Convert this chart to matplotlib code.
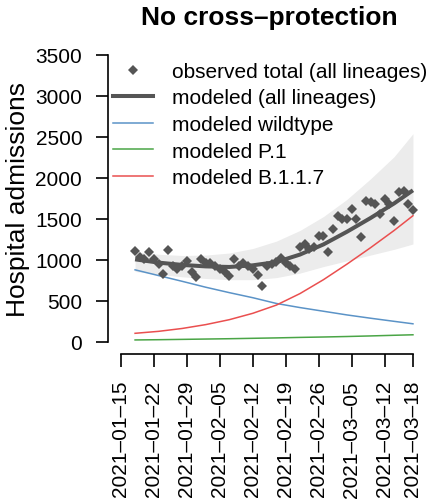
import matplotlib
matplotlib.use("Agg")
import matplotlib.pyplot as plt
import matplotlib.dates as mdates
from matplotlib.lines import Line2D
import numpy as np
import pandas as pd

plt.rcParams['font.family'] = ['Liberation Sans', 'DejaVu Sans']

# observed daily admissions, one per day 2021-01-18 .. 2021-03-18
obs_start = '2021-01-18'
obs_total = [1114, 1033, 1012, 1093, 1010, 951, 829, 1126, 931, 890,
             931, 992, 850, 789, 1012, 963, 963, 931, 890, 850,
             801, 1012, 931, 963, 931, 890, 821, 687, 931, 951,
             972, 1024, 963, 931, 890, 1154, 1195, 1134, 1154, 1289,
             1289, 1093, 1378, 1541, 1500, 1500, 1622, 1500, 1276, 1724,
             1703, 1683, 1561, 1744, 1683, 1480, 1825, 1846, 1683, 1614]

model_dates = ['2021-01-18', '2021-01-23', '2021-01-28', '2021-02-02', '2021-02-07',
               '2021-02-12', '2021-02-17', '2021-02-22', '2021-02-27', '2021-03-04',
               '2021-03-09', '2021-03-14', '2021-03-18']
model_total = [1008, 968, 940, 922, 915, 935, 975, 1066, 1190, 1345, 1512, 1690, 1850]
ci_low = [860, 825, 795, 775, 760, 760, 785, 840, 920, 990, 1060, 1130, 1195]
ci_high = [1100, 1070, 1055, 1060, 1085, 1140, 1230, 1360, 1530, 1740, 1990, 2260, 2540]
wildtype = [880, 810, 740, 668, 602, 540, 470, 420, 375, 330, 290, 252, 222]
p1 = [25, 28, 32, 36, 40, 45, 50, 56, 61, 67, 74, 82, 88]
b117 = [106, 130, 165, 212, 272, 350, 450, 590, 760, 950, 1150, 1360, 1540]

tick_dates = ['2021-01-15', '2021-01-22', '2021-01-29', '2021-02-05', '2021-02-12',
              '2021-02-19', '2021-02-26', '2021-03-05', '2021-03-12', '2021-03-18']
y_ticks = [0, 500, 1000, 1500, 2000, 2500, 3000, 3500]

grey = '#555555'

obs_x = mdates.date2num(pd.date_range(obs_start, periods=len(obs_total), freq='D'))
mod_x = mdates.date2num(pd.to_datetime(model_dates))
tick_x = mdates.date2num(pd.to_datetime(tick_dates))

fig = plt.figure(figsize=(4.33, 5.02), dpi=100)
ax = fig.add_axes([0.263, 0.3004, 0.707, 0.6044])

ax.fill_between(mod_x, ci_low, ci_high, color='#ececec', lw=0, zorder=1)
ax.plot(obs_x, obs_total, ls='none', marker='D', ms=5.2, color=grey, mew=0, zorder=3)
ax.plot(mod_x, model_total, color=grey, lw=2.9, solid_capstyle='butt', zorder=4)
ax.plot(mod_x, wildtype, color='#5b93c7', lw=1.1, zorder=2)
ax.plot(mod_x, p1, color='#4aa546', lw=1.1, zorder=2)
ax.plot(mod_x, b117, color='#ea4f4f', lw=1.1, zorder=2)

ax.set_xlim(tick_x[0] - 1.5, tick_x[0] + 63.5)
ax.set_ylim(-100, 3600)

for s in ['top', 'right']:
    ax.spines[s].set_visible(False)
ax.spines['left'].set_position(('outward', 4.3))
ax.spines['bottom'].set_position(('outward', 2.9))
ax.spines['left'].set_bounds(0, 3500)
ax.spines['bottom'].set_bounds(tick_x[0], tick_x[-1])
ax.spines['left'].set_linewidth(1.2)
ax.spines['bottom'].set_linewidth(1.2)

ax.set_yticks(y_ticks)
ax.set_yticklabels([str(v) for v in y_ticks])
ax.set_xticks(tick_x)
ax.set_xticklabels([d.replace('-', '\u2013') for d in tick_dates], rotation=90)
ax.tick_params(direction='out', length=9, width=1.2, labelsize=15, pad=9.5)

ax.set_ylabel('Hospital admissions', fontsize=19)
ax.yaxis.set_label_coords(-0.274, 0.5)

fig.text(269 / 433, 1 - 25 / 502, 'No cross\u2013protection', fontsize=19,
         fontweight='bold', ha='center', va='baseline')

handles = [Line2D([], [], ls='none', marker='D', ms=5.2, color=grey, mew=0),
           Line2D([], [], color=grey, lw=2.9),
           Line2D([], [], color='#5b93c7', lw=1.1),
           Line2D([], [], color='#4aa546', lw=1.1),
           Line2D([], [], color='#ea4f4f', lw=1.1)]
labels = ['observed total (all lineages)', 'modeled (all lineages)',
          'modeled wildtype', 'modeled P.1', 'modeled B.1.1.7']
ax.legend(handles, labels, loc='upper left', bbox_to_anchor=(113 / 433, 1 - 63 / 502),
          bbox_transform=fig.transFigure, frameon=False, fontsize=15,
          borderpad=0, borderaxespad=0, handlelength=1.92, handletextpad=0.91,
          labelspacing=0.36)

fig.savefig('out.png', dpi=100)
